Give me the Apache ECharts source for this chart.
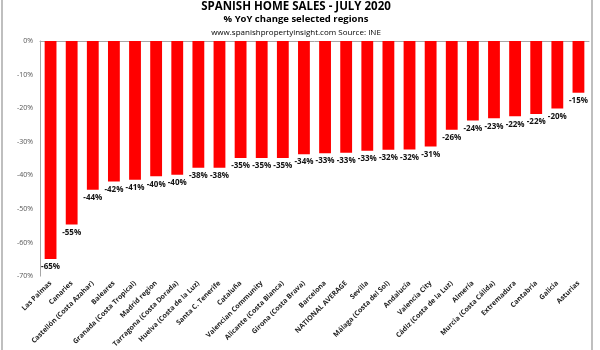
<!DOCTYPE html>
<html>
<head>
<meta charset="utf-8">
<script src="https://cdn.jsdelivr.net/npm/echarts@6/dist/echarts.min.js"></script>
<style>html,body{margin:0;padding:0;background:#fff}#c{width:600px;height:350px}</style>
</head>
<body>
<div id="c"></div>
<script>
var categories = ["Las Palmas","Canaries","Castellón (Costa Azahar)","Baleares","Granada (Costa Tropical)","Madrid region","Tarragona (Costa Dorada)","Huelva (Costa de la Luz)","Santa C. Tenerife","Cataluña","Valencian Community","Alicante (Costa Blanca)","Girona (Costa Brava)","Barcelona","NATIONAL AVERAGE","Sevilla","Málaga (Costa del Sol)","Andalucía","Valencia City","Cádiz (Costa de la Luz)","Almería","Murcia (Costa Cálida)","Extremadura","Cantabria","Galicia","Asturias"];
var yoyChange = [-64.9,-54.6,-44.3,-41.8,-41.3,-40.3,-39.8,-37.7,-37.7,-34.8,-34.8,-34.8,-33.7,-33.4,-33.3,-32.7,-32.4,-32.3,-31.4,-26.4,-23.7,-23.0,-22.4,-21.7,-20.1,-15.4];
var titleText = "SPANISH HOME SALES - JULY 2020";
var subtitleText = "% YoY change selected regions";
var sourceText = "www.spanishpropertyinsight.com Source: INE";

var chart = echarts.init(document.getElementById('c'), null, {renderer: 'canvas'});
var font = '"Open Sans", "Liberation Sans", sans-serif';
chart.setOption({
  animation: false,
  backgroundColor: '#fff',
  title: [
    {text: titleText, left: 291, top: -4, textAlign: 'center', textStyle: {fontFamily: font, fontWeight: 'bold', fontSize: 11.5, color: '#000'}},
    {text: subtitleText, left: 291, top: 9, textAlign: 'center', textStyle: {fontFamily: font, fontWeight: 'bold', fontSize: 9.5, color: '#000'}},
    {text: sourceText, left: 291, top: 24, textAlign: 'center', textStyle: {fontFamily: font, fontWeight: 'normal', fontSize: 8, color: '#000'}}
  ],
  graphic: [
    {type: 'line', shape: {x1: 2, y1: 0, x2: 2, y2: 350}, style: {stroke: '#aaa', lineWidth: 1.5}},
    {type: 'line', shape: {x1: 592, y1: 0, x2: 592, y2: 350}, style: {stroke: '#aaa', lineWidth: 1.5}}
  ],
  grid: {left: 40, right: 11, top: 41, bottom: 63, containLabel: false},
  xAxis: [
    {type: 'category', data: categories, position: 'bottom',
      axisLine: {show: false}, axisTick: {show: false},
      axisLabel: {rotate: 45, interval: 0, margin: 6, fontFamily: font, fontSize: 7, fontWeight: 'bold', color: '#222'}},
    {type: 'category', data: categories, position: 'top',
      axisLine: {show: true, lineStyle: {color: '#a6a6a6', width: 1}}, axisTick: {show: false}, axisLabel: {show: false}}
  ],
  yAxis: {type: 'value', min: -70, max: 0, interval: 10,
    axisLine: {show: true, lineStyle: {color: '#a6a6a6'}}, axisTick: {show: false},
    splitLine: {show: false},
    axisLabel: {formatter: function(v){return v + '%';}, fontFamily: font, fontSize: 7, color: '#555', margin: 7}},
  series: [{
    type: 'bar', data: yoyChange, xAxisIndex: 0, barWidth: '56%',
    itemStyle: {color: '#ff0000'},
    label: {show: true, position: 'bottom', distance: 4, fontFamily: font, fontSize: 8, fontWeight: 'bold', color: '#111',
      formatter: function(p){return Math.round(p.value) + '%';}}
  }]
});
</script>
</body>
</html>
